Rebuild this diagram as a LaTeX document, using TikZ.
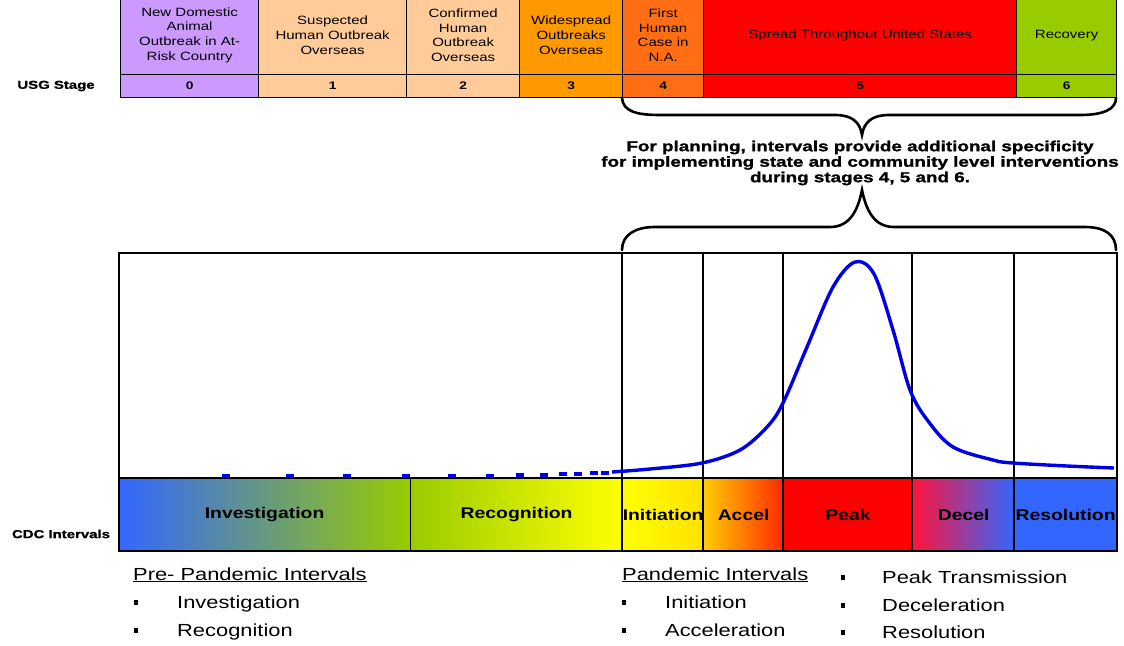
\documentclass[tikz,border=0pt]{standalone}
\usepackage{fontspec}
\setmainfont{Liberation Sans}[FakeStretch=1.25]
\newfontfamily\heavy{Liberation Sans}[FakeStretch=1.3,BoldFeatures={FakeBold=1.3}]
\definecolor{lav}{RGB}{204,153,255}
\definecolor{peach}{RGB}{255,204,153}
\definecolor{orng}{RGB}{255,153,0}
\definecolor{dorng}{RGB}{255,110,20}
\definecolor{redv}{RGB}{255,0,0}
\definecolor{lime}{RGB}{153,204,0}
\definecolor{bblue}{RGB}{51,102,255}
\definecolor{cblue}{RGB}{0,0,230}
\definecolor{ygreen}{RGB}{153,204,0}
\begin{document}
\begin{tikzpicture}[x=1pt,y=-1pt,
  cell/.style={draw=black, line width=1.3pt, inner sep=0pt, anchor=north west, align=center,
    font=\fontsize{12}{14.8}\selectfont, minimum height=79pt},
  numcell/.style={draw=black, line width=1.3pt, inner sep=0pt, anchor=north west,
    font=\bfseries\fontsize{11}{12}\selectfont, minimum height=23pt},
  bar/.style={draw=black, line width=1.2pt, inner sep=0pt, anchor=north west, minimum height=72pt,
    font=\bfseries\fontsize{15.5}{16}\selectfont},
  sidelabel/.style={font=\heavy\bfseries\fontsize{11.5}{12}\selectfont},
  brace/.style={line width=2.6pt, line cap=round},
  curve/.style={draw=cblue, line width=3.4pt},
  dotmark/.style={fill=cblue},
  listtxt/.style={anchor=base west, inner sep=0pt, font=\fontsize{17.5}{20}\selectfont},
  bul/.style={fill=black, inner sep=0pt, minimum width=4.5pt, minimum height=5pt},
  vline/.style={line width=2pt}
]
\useasboundingbox (0,0) rectangle (1124,645);
\fill[white] (0,0) rectangle (1124,645);

% ---- top USG table ----
\node[cell, fill=lav,   minimum width=138pt] (c0) at (120,-5) {New Domestic\\Animal\\Outbreak in At-\\Risk Country};
\node[cell, fill=peach, minimum width=148pt] (c1) at (258,-5) {Suspected\\Human Outbreak\\Overseas};
\node[cell, fill=peach, minimum width=113pt] (c2) at (406,-5) {Confirmed\\Human\\Outbreak\\Overseas};
\node[cell, fill=orng,  minimum width=103pt] (c3) at (519,-5) {Widespread\\Outbreaks\\Overseas};
\node[cell, fill=dorng, minimum width=81pt]  (c4) at (622,-5) {First\\Human\\Case in\\N.A.};
\node[cell, fill=redv,  minimum width=313pt] (c5) at (703,-5) {Spread Throughout United States};
\node[cell, fill=lime,  minimum width=100pt] (c6) at (1016,-5) {Recovery};

\node[numcell, fill=lav,   minimum width=138pt] (n0) at (120,74) {0};
\node[numcell, fill=peach, minimum width=148pt] (n1) at (258,74) {1};
\node[numcell, fill=peach, minimum width=113pt] (n2) at (406,74) {2};
\node[numcell, fill=orng,  minimum width=103pt] (n3) at (519,74) {3};
\node[numcell, fill=dorng, minimum width=81pt]  (n4) at (622,74) {4};
\node[numcell, fill=redv,  minimum width=313pt] (n5) at (703,74) {5};
\node[numcell, fill=lime,  minimum width=100pt] (n6) at (1016,74) {6};

\node[sidelabel] (usg) at (56,86) {USG Stage};

% ---- braces ----
\draw[brace] (622,98) .. controls (623,112) and (638,115) .. (660,115) -- (835,115)
  .. controls (852,115) and (860,122) .. (862,135)
  .. controls (864,122) and (872,115) .. (889,115) -- (1080,115)
  .. controls (1104,115) and (1116,109) .. (1116,98);
\node[font=\heavy\bfseries\fontsize{14.5}{15.5}\selectfont, align=center, inner sep=0pt] (note) at (860,163)
  {For planning, intervals provide additional specificity\\for implementing state and community level interventions\\during stages 4, 5 and 6.};
\draw[brace] (622,250) .. controls (622,235) and (635,227) .. (655,227) -- (830,227)
  .. controls (850,227) and (858,210) .. (862,190)
  .. controls (866,210) and (874,227) .. (894,227) -- (1085,227)
  .. controls (1105,227) and (1116,235) .. (1116,250);

% ---- CDC interval bar ----
\node[bar, left color=bblue, right color=ygreen, minimum width=292pt] (b0) at (118,478) {Investigation};
\node[bar, left color=ygreen, middle color={rgb,255:red,225;green,232;blue,0}, right color=yellow, minimum width=212pt] (b1) at (410,478) {Recognition};
\node[bar, left color=yellow, right color={rgb,255:red,255;green,225;blue,0}, minimum width=81pt] (b2) at (622,478) {Initiation};
\node[bar, left color={rgb,255:red,255;green,205;blue,0}, right color={rgb,255:red,255;green,40;blue,0}, minimum width=80pt] (b3) at (703,478) {Accel};
\node[bar, fill=redv, minimum width=129pt] (b4) at (783,478) {Peak};
\node[bar, left color={rgb,255:red,255;green,20;blue,60}, right color=bblue, minimum width=102pt] (b5) at (912,478) {Decel};
\node[bar, fill=bblue, minimum width=102pt] (b6) at (1014,478) {Resolution};

\node[sidelabel] (cdc) at (61,534) {CDC Intervals};

% ---- chart frame ----
\node[draw=black, line width=2.4pt, inner sep=0pt, anchor=north west, minimum width=998pt, minimum height=298pt] (chart) at (118,252) {};
\draw[line width=2.4pt] (118,478) -- (1116,478);
\foreach \xx in {622,703,783,912,1014} \draw[vline] (\xx,252) -- (\xx,550);

% ---- epidemic curve ----
\foreach \xx/\yy in {226/476,290/476,347/476,406/476,452/476,490/475.5,520/475,544/474.5,563/474,578/473.5,594/473,605/472.5}
  \fill[dotmark] (\xx-4,\yy-2) rectangle (\xx+4,\yy+2);
\draw[curve] plot[smooth, tension=0.55] coordinates {(612,472) (650,469) (702,463) (740,450) (767,427) (783,403) (807,347) (833,287) (855,262) (874,274) (893,330) (910,390) (928,421) (953,447) (993,460) (1013,463) (1067,466) (1114,468)};

% ---- legend lists ----
\node[listtxt] (pre) at (133,580) {\underline{Pre- Pandemic Intervals}};
\node[bul] (pb1) at (136,602) {};
\node[listtxt] (pi1) at (177,608) {Investigation};
\node[bul] (pb2) at (136,630) {};
\node[listtxt] (pi2) at (177,636) {Recognition};

\node[listtxt] (pan) at (622,580) {\underline{Pandemic Intervals}};
\node[bul] (qb1) at (624,602) {};
\node[listtxt] (qi1) at (665,608) {Initiation};
\node[bul] (qb2) at (624,630) {};
\node[listtxt] (qi2) at (665,636) {Acceleration};

\node[bul] (rb1) at (843,577) {};
\node[listtxt] (ri1) at (882,583) {Peak Transmission};
\node[bul] (rb2) at (843,605) {};
\node[listtxt] (ri2) at (882,611) {Deceleration};
\node[bul] (rb3) at (843,632) {};
\node[listtxt] (ri3) at (882,638) {Resolution};
\end{tikzpicture}
\end{document}
